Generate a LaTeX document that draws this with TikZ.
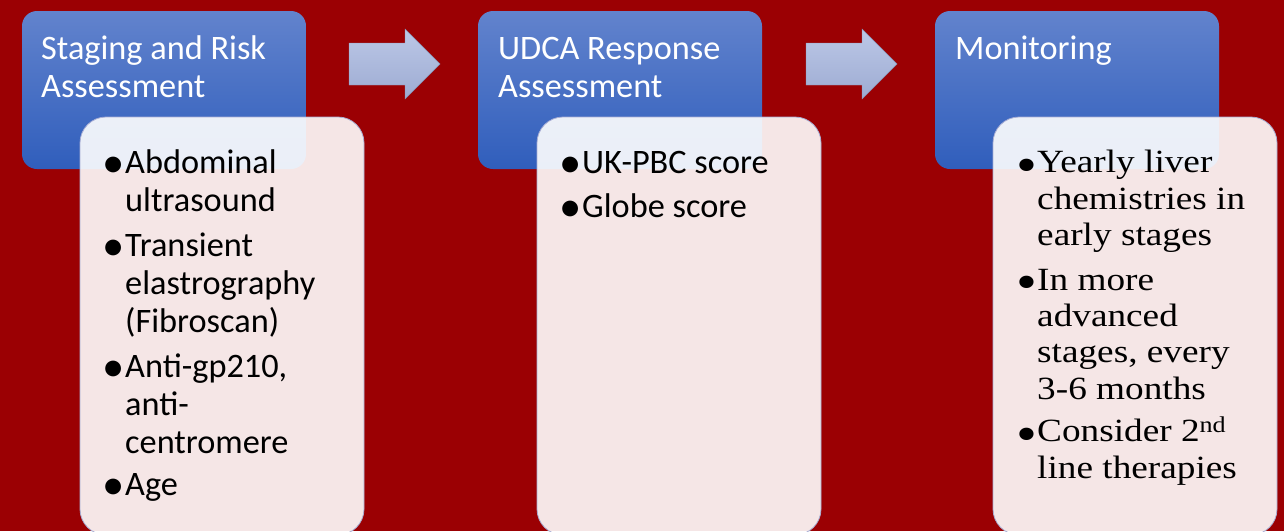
\documentclass[tikz,border=0pt]{standalone}
\usepackage{fontspec}
\setmainfont{Carlito}
\newfontfamily\cambria[FakeStretch=1.15]{Liberation Serif}
\definecolor{bgred}{RGB}{155,0,3}
\definecolor{bluetop}{RGB}{98,131,205}
\definecolor{bluebot}{RGB}{48,94,188}
\definecolor{arrtop}{RGB}{188,200,231}
\definecolor{arrbot}{RGB}{157,171,210}
\definecolor{pinkline}{RGB}{168,174,212}
\newcommand{\bigbul}{\llap{\raisebox{-4pt}{\scalebox{1.3}{•}}\hspace{0.5pt}}}
\newcommand{\serbul}{\llap{\raisebox{-9.2pt}{\scalebox{1.6}{•}}\hspace{-0.5pt}}}
\tikzset{
  hdr/.style={anchor=north west, inner sep=0pt, outer sep=0pt, rounded corners=15pt,
    top color=bluetop, bottom color=bluebot, minimum width=284pt, minimum height=158pt},
  bodybox/.style={anchor=north west, inner sep=0pt, outer sep=0pt, rounded corners=26pt,
    fill=white, fill opacity=0.9, draw=pinkline, line width=0.8pt,
    minimum width=284pt, minimum height=418pt},
  flowarrow/.style={top color=arrtop, bottom color=arrbot, draw=arrbot!85!black, line width=0.4pt},
  hdrtext/.style={anchor=north west, inner sep=0pt, align=left, text=white,
    font=\fontsize{34.3}{38}\selectfont},
  itemtext/.style={anchor=north west, inner sep=0pt, align=left, text=black,
    font=\fontsize{34.3}{38}\selectfont},
  seriftext/.style={anchor=north west, inner sep=0pt, align=left, text=black,
    font=\cambria\fontsize{32.4}{36.3}\selectfont}
}
\begin{document}
\begin{tikzpicture}[x=1pt,y=-1pt]
\useasboundingbox (0,0) rectangle (1284,531);
\clip (0,0) rectangle (1284,531);
\fill[bgred] (0,0) rectangle (1284,531);

% column 1
\node[hdr] (h1) at (22,11) {};
\node[hdrtext] (t1) at (41,32.9) {\strut Staging and Risk\\\strut Assessment};
\node[bodybox] (b1) at (80,117) {};
\node[itemtext] (i1a) at (125,146.4) {\strut\bigbul Abdominal\\\strut ultrasound};
\node[itemtext] (i1b) at (125,229.4) {\strut\bigbul Transient\\\strut elastrography\\\strut (Fibroscan)};
\node[itemtext] (i1c) at (125,350.4) {\strut\bigbul Anti-gp210,\\\strut anti-\\\strut centromere};
\node[itemtext] (i1d) at (125,468.4) {\strut\bigbul Age};

% arrow 1
\path[flowarrow] (349,43) -- (405,43) -- (405,29) -- (440,64) -- (405,99) -- (405,85) -- (349,85) -- cycle;

% column 2
\node[hdr] (h2) at (478,11) {};
\node[hdrtext] (t2) at (498,32.9) {\strut UDCA Response\\\strut Assessment};
\node[bodybox] (b2) at (537,117) {};
\node[itemtext] (i2a) at (582,146.4) {\strut\bigbul UK-PBC score};
\node[itemtext] (i2b) at (582,190.4) {\strut\bigbul Globe score};

% arrow 2
\path[flowarrow] (806,43) -- (862,43) -- (862,29) -- (897,64) -- (862,99) -- (862,85) -- (806,85) -- cycle;

% column 3
\node[hdr] (h3) at (935,11) {};
\node[hdrtext] (t3) at (955,32.9) {\strut Monitoring};
\node[bodybox] (b3) at (993,117) {};
\node[seriftext] (i3a) at (1037,147.3) {\strut\serbul Yearly liver\\\strut chemistries in\\\strut early stages};
\node[seriftext] (i3b) at (1037,264.6) {\strut\serbul In more\\\strut advanced\\\strut stages, every\\\strut 3-6 months};
\node[seriftext] (i3c) at (1037,416.3) {\strut\serbul Consider 2\textsuperscript{nd}\\\strut line therapies};
\end{tikzpicture}
\end{document}
